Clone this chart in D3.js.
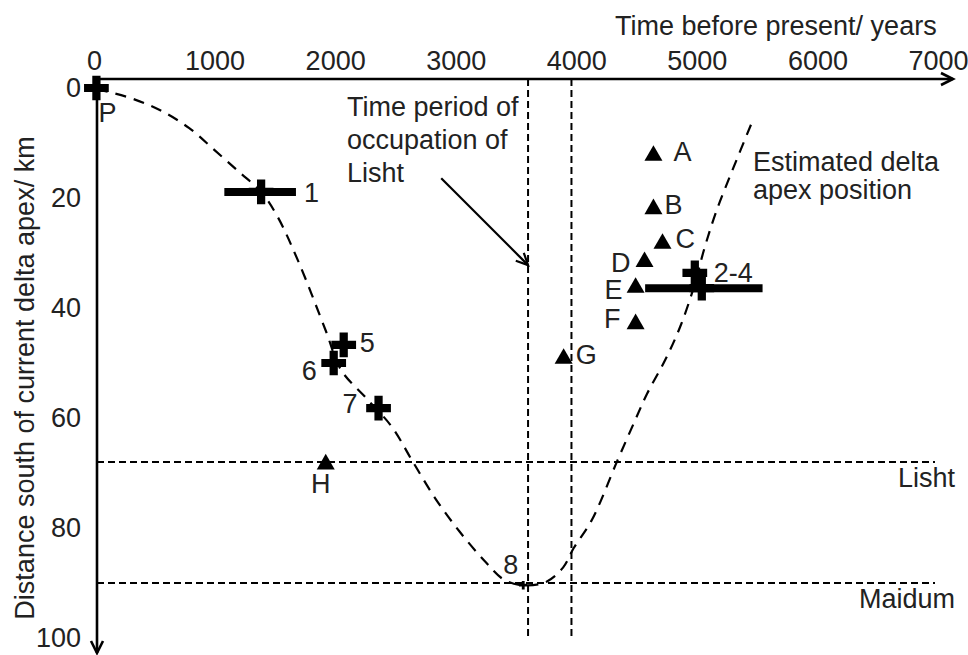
<!DOCTYPE html>
<html>
<head>
<meta charset="UTF-8">
<title>Delta apex position</title>
<script src="https://d3js.org/d3.v7.min.js"></script>
<style>
    body { margin: 0; background: #fff; }
    svg { display: block; }
    text { font-family: "Liberation Sans", Arial, sans-serif; font-size: 27px; fill: #222; }
    .axis-line { stroke: #000; stroke-width: 2.6; fill: none; }
    .guide { stroke: #000; stroke-width: 2; stroke-dasharray: 7 4; fill: none; }
    .trend { stroke: #000; stroke-width: 2.2; stroke-dasharray: 11 8; fill: none; }
</style>
</head>
<body>
<script>
// x ticks (years before present), y ticks (km south of current apex)
var xTicks = [0, 1000, 2000, 3000, 4000, 5000, 6000, 7000];
var yTicks = [0, 20, 40, 60, 80, 100];

// dated positions drawn as crosses
var crossLabels = ["P", "1", "5", "6", "7", "2-4", "", "8"];
var crossYears  = [20, 1386, 2071, 1988, 2360, 4983, 5041, 3560];
var crossKm     = [0, 18.9, 46.7, 50, 58.2, 33.6, 36.4, 90.4];

// age ranges (error bars)
var barYearsFrom = [1081, 4571];
var barYearsTo   = [1675, 5545];
var barKm        = [18.9, 36.4];

// other sites drawn as triangles
var triLabels = ["A", "B", "C", "D", "E", "F", "G", "H"];
var triYears  = [4640, 4640, 4715, 4566, 4492, 4492, 3895, 1922];
var triKm     = [12.3, 22, 28.3, 31.6, 36.3, 42.9, 49.2, 68.4];

// estimated delta apex position (dashed curve)
var apexYears = [25, 300, 545, 790, 1000, 1205, 1386, 1520, 1700, 1920, 2050, 2250, 2470, 2640,
                 2830, 3030, 3240, 3400, 3560, 3750, 3890, 3980, 4130, 4340, 4488, 4587, 4736,
                 4860, 4975, 5066, 5165, 5305, 5454];
var apexKm    = [0.2, 1.8, 4, 7.3, 11.3, 15.3, 18.9, 23.3, 31.8, 44, 51.3, 56.2, 61.6, 67.8,
                 74.6, 80.6, 86, 89.4, 90.4, 89.8, 87.2, 83.6, 78.5, 67.8, 60.4, 55.6, 49.5,
                 43.5, 36.2, 28.9, 22.2, 14.4, 6.4];

// time period of occupation of Lisht
var occupationYears = [3600, 3960];

// towns
var townNames = ["Lisht", "Maidum"];
var townKm    = [68, 90];

var width = 968, height = 655;
var axisTop = 79, axisLeft = 97;

var x = d3.scaleLinear().domain([0, 7000]).range([94, 938]);
var y = d3.scaleLinear().domain([0, 100]).range([88, 638]);

var svg = d3.select("body").append("svg")
    .attr("width", width)
    .attr("height", height);

// axis lines with open arrow heads
svg.append("path").attr("class", "axis-line")
    .attr("d", "M" + axisLeft + "," + axisTop + "H953");
svg.append("path").attr("class", "axis-line")
    .attr("d", "M941," + (axisTop - 6) + "L953," + axisTop + "L941," + (axisTop + 6));
svg.append("path").attr("class", "axis-line")
    .attr("d", "M" + axisLeft + "," + axisTop + "V653");
svg.append("path").attr("class", "axis-line")
    .attr("d", "M" + (axisLeft - 6) + ",641L" + axisLeft + ",653L" + (axisLeft + 6) + ",641");

// tick labels
var gx = svg.append("g")
    .attr("transform", "translate(0," + axisTop + ")")
    .call(d3.axisTop(x).tickValues(xTicks).tickFormat(d3.format("d")).tickSize(0).tickPadding(9));
gx.select(".domain").remove();

var gy = svg.append("g")
    .attr("transform", "translate(" + axisLeft + ",0)")
    .call(d3.axisLeft(y).tickValues(yTicks).tickFormat(d3.format("d")).tickSize(0).tickPadding(16));
gy.select(".domain").remove();

svg.selectAll(".tick text")
    .attr("font-family", null)
    .attr("font-size", null)
    .style("fill", "#222");

// axis titles
svg.append("text")
    .attr("x", 615).attr("y", 35)
    .text("Time before present/ years");

svg.append("text")
    .attr("transform", "translate(34,378) rotate(-90)")
    .attr("text-anchor", "middle")
    .text("Distance south of current delta apex/ km");

// town lines
townKm.forEach(function (k, i) {
    svg.append("line").attr("class", "guide")
        .attr("x1", axisLeft).attr("x2", 935)
        .attr("y1", y(k)).attr("y2", y(k));
    svg.append("text")
        .attr("x", 955).attr("y", y(k) + 25)
        .attr("text-anchor", "end")
        .text(townNames[i]);
});

// occupation period
occupationYears.forEach(function (t) {
    svg.append("line").attr("class", "guide")
        .attr("x1", x(t)).attr("x2", x(t))
        .attr("y1", axisTop).attr("y2", y(99.8));
});

// dashed apex curve
var apex = apexYears.map(function (t, i) { return [t, apexKm[i]]; });
var line = d3.line()
    .x(function (d) { return x(d[0]); })
    .y(function (d) { return y(d[1]); })
    .curve(d3.curveCatmullRom.alpha(0.5));
svg.append("path").attr("class", "trend").attr("d", line(apex));

// annotation text
var note = svg.append("text");
note.append("tspan").attr("x", 347).attr("y", 116).text("Time period of");
note.append("tspan").attr("x", 347).attr("y", 149).text("occupation of");
note.append("tspan").attr("x", 347).attr("y", 182).text("Lisht");

var est = svg.append("text");
est.append("tspan").attr("x", 753).attr("y", 171).text("Estimated delta");
est.append("tspan").attr("x", 753).attr("y", 199).text("apex position");

// arrow to occupation lines
var ax0 = x(2880), ay0 = y(16.4), ax1 = x(occupationYears[0]), ay1 = y(32.2);
svg.append("line")
    .attr("x1", ax0).attr("y1", ay0).attr("x2", ax1).attr("y2", ay1)
    .attr("stroke", "#000").attr("stroke-width", 2.2);
var ang = Math.atan2(ay1 - ay0, ax1 - ax0), hl = 13;
svg.append("path")
    .attr("fill", "none").attr("stroke", "#000").attr("stroke-width", 2.2)
    .attr("d", "M" + (ax1 - hl * Math.cos(ang - 0.45)) + "," + (ay1 - hl * Math.sin(ang - 0.45)) +
               "L" + ax1 + "," + ay1 +
               "L" + (ax1 - hl * Math.cos(ang + 0.45)) + "," + (ay1 - hl * Math.sin(ang + 0.45)));

// error bars
barKm.forEach(function (k, i) {
    svg.append("line")
        .attr("x1", x(barYearsFrom[i])).attr("x2", x(barYearsTo[i]))
        .attr("y1", y(k)).attr("y2", y(k))
        .attr("stroke", "#000").attr("stroke-width", 8);
});

// crosses
var crossOffsets = [[2, 34, "start"], [43, 10, "start"], [16, 7, "start"], [-17, 17, "end"],
                    [-21, 5, "end"], [19, 9, "start"], [0, 0, "start"], [-5, -11, "end"]];
crossYears.forEach(function (t, i) {
    var cx = x(t), cy = y(crossKm[i]);
    var size = crossLabels[i] === "8" ? 40 : 340;
    svg.append("path")
        .attr("transform", "translate(" + cx + "," + cy + ")")
        .attr("d", d3.symbol().type(d3.symbolCross).size(size)())
        .attr("fill", "#000");
    if (crossLabels[i]) {
        svg.append("text")
            .attr("x", cx + crossOffsets[i][0]).attr("y", cy + crossOffsets[i][1])
            .attr("text-anchor", crossOffsets[i][2])
            .text(crossLabels[i]);
    }
});

// triangles
var triOffsets = [[20, 5, "start"], [11, 5, "start"], [13, 4, "start"], [-14, 10, "end"],
                  [-13, 11, "end"], [-15, 4, "end"], [12, 5, "start"], [-5, 29, "middle"]];
triYears.forEach(function (t, i) {
    var cx = x(t), cy = y(triKm[i]);
    svg.append("path")
        .attr("transform", "translate(" + cx + "," + cy + ")")
        .attr("d", d3.symbol().type(d3.symbolTriangle).size(140)())
        .attr("fill", "#000");
    svg.append("text")
        .attr("x", cx + triOffsets[i][0]).attr("y", cy + triOffsets[i][1])
        .attr("text-anchor", triOffsets[i][2])
        .text(triLabels[i]);
});
</script>
</body>
</html>
